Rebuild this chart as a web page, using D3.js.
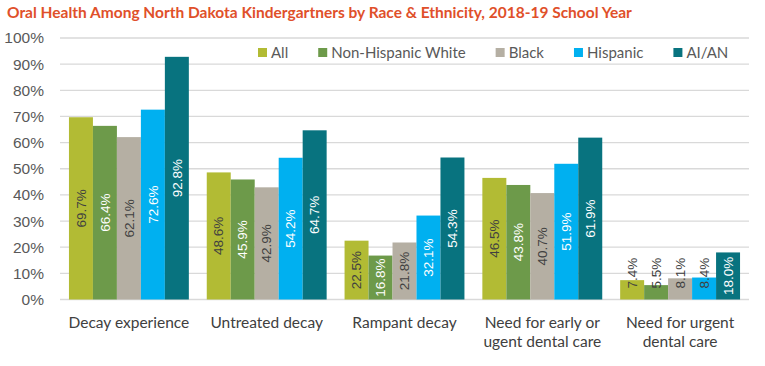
<!DOCTYPE html>
<html>
<head>
<meta charset="utf-8">
<script src="https://cdn.jsdelivr.net/npm/d3@7"></script>
<style>
  body { margin: 0; background: #fff; }
  svg { display: block; }
</style>
</head>
<body>
<svg id="chart" width="765" height="366"></svg>
<script>
// data
var categories = [
    ["Decay experience"],
    ["Untreated decay"],
    ["Rampant decay"],
    ["Need for early or", "ugent dental care"],
    ["Need for urgent", "dental care"]
];
var seriesNames = ["All", "Non-Hispanic White", "Black", "Hispanic", "AI/AN"];
var seriesColors = ["#b2bb34", "#6d9a4a", "#b5afa3", "#00b0f0", "#08737f"];
var labelColors = ["#404040", "#ffffff", "#404040", "#ffffff", "#ffffff"];
var allValues = [69.7, 48.6, 22.5, 46.5, 7.4];
var whiteValues = [66.4, 45.9, 16.8, 43.8, 5.5];
var blackValues = [62.1, 42.9, 21.8, 40.7, 8.1];
var hispanicValues = [72.6, 54.2, 32.1, 51.9, 8.4];
var aianValues = [92.8, 64.7, 54.3, 61.9, 18.0];
var yTicks = [0, 10, 20, 30, 40, 50, 60, 70, 80, 90, 100];

var series = [allValues, whiteValues, blackValues, hispanicValues, aianValues];

var svg = d3.select("#chart");
var plotLeft = 60, plotRight = 749, plotTop = 38, plotBottom = 299.5;

var x0 = d3.scaleBand()
    .domain(d3.range(categories.length))
    .range([plotLeft, plotRight])
    .paddingInner(0.13)
    .paddingOuter(0.065);

var x1 = d3.scaleBand()
    .domain(d3.range(seriesNames.length))
    .range([0, x0.bandwidth()]);

var y = d3.scaleLinear().domain([0, 100]).range([plotBottom, plotTop]);

// title
svg.append("text")
    .attr("x", 7)
    .attr("y", 18)
    .attr("fill", "#e0502a")
    .style("font-family", "Lato, 'Open Sans', sans-serif")
    .style("font-weight", "bold")
    .style("font-size", "15.5px")
    .text("Oral Health Among North Dakota Kindergartners by Race & Ethnicity, 2018-19 School Year");

// gridlines
svg.append("g")
    .selectAll("line")
    .data(yTicks)
    .enter().append("line")
    .attr("x1", plotLeft)
    .attr("x2", plotRight)
    .attr("y1", d => y(d))
    .attr("y2", d => y(d))
    .attr("stroke", "#d9d9d9")
    .attr("stroke-width", 1.3);

// y axis labels
var yAxis = d3.axisLeft(y)
    .tickValues(yTicks)
    .tickFormat(d => d + "%")
    .tickSize(0)
    .tickPadding(0);

var yg = svg.append("g")
    .attr("transform", "translate(44,0)")
    .call(yAxis);
yg.select(".domain").remove();
yg.selectAll("text")
    .attr("fill", "#595959")
    .style("font-family", "'Liberation Sans', Arial, sans-serif")
    .style("font-size", "15.5px");

// bars
var groups = svg.append("g")
    .selectAll("g")
    .data(categories)
    .enter().append("g")
    .attr("transform", (d, i) => "translate(" + x0(i) + ",0)");

var cells = groups.selectAll("g")
    .data((d, i) => series.map((s, j) => ({ cat: i, ser: j, value: s[i] })))
    .enter().append("g");

cells.append("rect")
    .attr("x", d => x1(d.ser))
    .attr("y", d => y(d.value))
    .attr("width", x1.bandwidth())
    .attr("height", d => y(0) - y(d.value))
    .attr("fill", d => seriesColors[d.ser]);

var labels = cells.append("text")
    .attr("fill", d => labelColors[d.ser])
    .attr("text-anchor", "middle")
    .attr("dy", "0.35em")
    .style("font-family", "'Liberation Sans', Arial, sans-serif")
    .style("font-size", "13.5px")
    .text(d => d.value.toFixed(1) + "%");

labels.each(function (d) {
    var len = this.getComputedTextLength();
    var h = y(0) - y(d.value);
    var cy = (y(0) + y(d.value)) / 2;
    var color = labelColors[d.ser];
    if (len > h) {
        // doesn't fit: Excel pushes it up over the bar
        cy = y(0) - len / 2 - 11;
        color = "#404040";
    }
    var cx = x1(d.ser) + x1.bandwidth() / 2;
    d3.select(this)
        .attr("fill", color)
        .attr("transform", "translate(" + cx + "," + cy + ") rotate(-90)");
});

// category labels
var catText = svg.append("g")
    .selectAll("text")
    .data(categories)
    .enter().append("text")
    .attr("x", (d, i) => x0(i) + x0.bandwidth() / 2)
    .attr("y", 328)
    .attr("text-anchor", "middle")
    .attr("fill", "#404040")
    .style("font-family", "Lato, 'Open Sans', sans-serif")
    .style("font-size", "15.5px");

catText.selectAll("tspan")
    .data(d => d)
    .enter().append("tspan")
    .attr("x", function () { return d3.select(this.parentNode).attr("x"); })
    .attr("dy", (d, i) => i === 0 ? 0 : 19)
    .text(d => d);

// legend
var legend = svg.append("g");
var lx = 258;
seriesNames.forEach(function (name, i) {
    legend.append("rect")
        .attr("x", lx)
        .attr("y", 48)
        .attr("width", 9)
        .attr("height", 9)
        .attr("fill", seriesColors[i]);
    var t = legend.append("text")
        .attr("x", lx + 13)
        .attr("y", 57.5)
        .attr("fill", "#595959")
        .style("font-family", "Lato, 'Open Sans', sans-serif")
        .style("font-size", "15px")
        .text(name);
    lx += 13 + t.node().getComputedTextLength() + 30;
});
</script>
</body>
</html>
